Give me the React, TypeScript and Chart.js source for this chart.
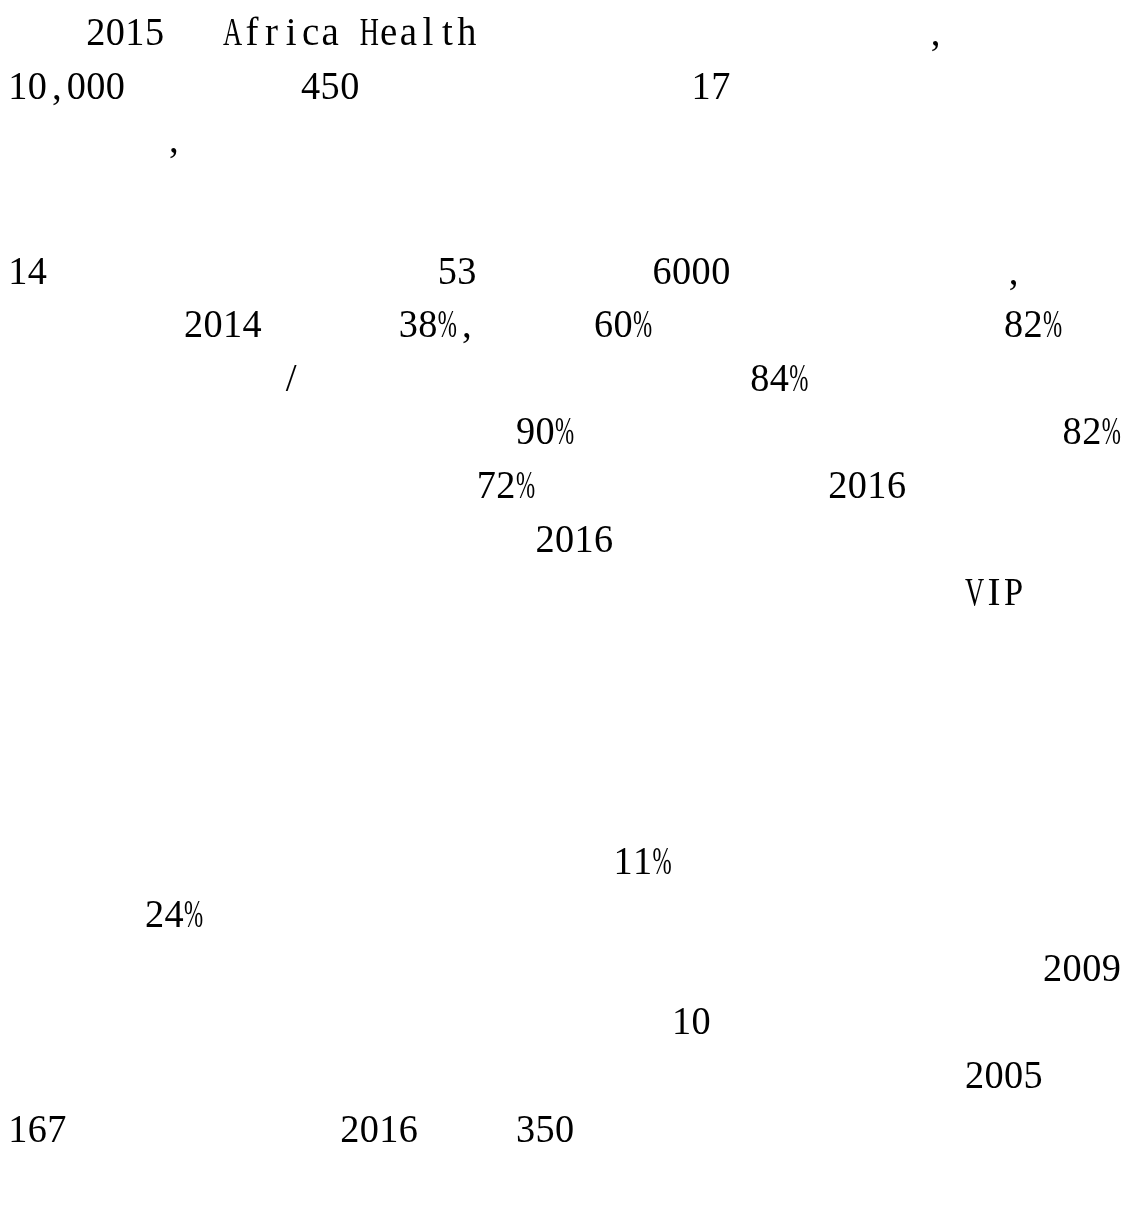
import React, { useEffect, useRef } from "react";
import { Chart, registerables } from "chart.js";

Chart.register(...registerables);

const gap = (n: number) => " ".repeat(n);

// Text rows, one character per half-width cell (glyphs that did not render are blanks)
const PARA_1: string[] = [
  gap(4) + "2015" + gap(3) + "Africa Health" + gap(23) + ",",
  "10,000" + gap(9) + "450" + gap(17) + "17",
  gap(8) + ",",
];

const PARA_2: string[] = [
  "14" + gap(20) + "53" + gap(9) + "6000" + gap(14) + ",",
  gap(9) + "2014" + gap(7) + "38%," + gap(6) + "60%" + gap(18) + "82%",
  gap(14) + "/" + gap(23) + "84%",
  gap(26) + "90%" + gap(25) + "82%",
  gap(24) + "72%" + gap(15) + "2016",
  gap(27) + "2016",
  gap(49) + "VIP",
];

const PARA_3: string[] = [
  gap(31) + "11%",
  gap(7) + "24%",
  gap(53) + "2009",
  gap(34) + "10",
  gap(49) + "2005",
  "167" + gap(14) + "2016" + gap(5) + "350",
];

const PARAGRAPHS: string[][] = [PARA_1, PARA_2, PARA_3];

// layout (in line units, measured from the first baseline)
const PARA_START = [0, 4.45, 15.46];
const CANVAS_W = 1113;
const CANVAS_H = 1217;
const CELLS = 57;
const LINE_H = 53.6;
const FIRST_BASELINE = 37;
const FONT = "41px 'Liberation Serif', 'Times New Roman', serif";

const textRowsPlugin = {
  id: "textRows",
  afterDraw(chart: any) {
    const { ctx, scales } = chart;
    const xs = scales.x;
    const ys = scales.y;
    const cell = xs.getPixelForValue(1) - xs.getPixelForValue(0);
    ctx.save();
    ctx.font = FONT;
    ctx.fillStyle = "#000000";
    ctx.textAlign = "center";
    ctx.textBaseline = "alphabetic";
    PARAGRAPHS.forEach((para, p) => {
      para.forEach((row, i) => {
        const y = ys.getPixelForValue(PARA_START[p] + i);
        for (let c = 0; c < row.length; c++) {
          const ch = row[c];
          if (ch === " ") continue;
          const w = ctx.measureText(ch).width;
          const sx = Math.min(0.95, (cell * 0.98) / w);
          const x = xs.getPixelForValue(c + 0.5);
          ctx.save();
          ctx.translate(x, y);
          ctx.scale(sx, 1);
          ctx.fillText(ch, 0, 0);
          ctx.restore();
        }
      });
    });
    ctx.restore();
  },
};

export default function App() {
  const ref = useRef<HTMLCanvasElement | null>(null);
  useEffect(() => {
    if (!ref.current) return;
    const yMin = -FIRST_BASELINE / LINE_H;
    const yMax = yMin + CANVAS_H / LINE_H;
    const chart = new Chart(ref.current, {
      type: "scatter",
      data: { datasets: [] },
      options: {
        responsive: true,
        maintainAspectRatio: false,
        animation: false,
        layout: { padding: 0 },
        plugins: { legend: { display: false }, tooltip: { enabled: false }, title: { display: false } },
        scales: {
          x: { type: "linear", min: 0, max: CELLS, display: false },
          y: { type: "linear", reverse: true, min: yMin, max: yMax, display: false },
        },
      },
      plugins: [textRowsPlugin],
    });
    return () => chart.destroy();
  }, []);
  return (
    <div style={{ position: "relative", width: CANVAS_W, height: CANVAS_H }}>
      <canvas ref={ref} />
    </div>
  );
}
